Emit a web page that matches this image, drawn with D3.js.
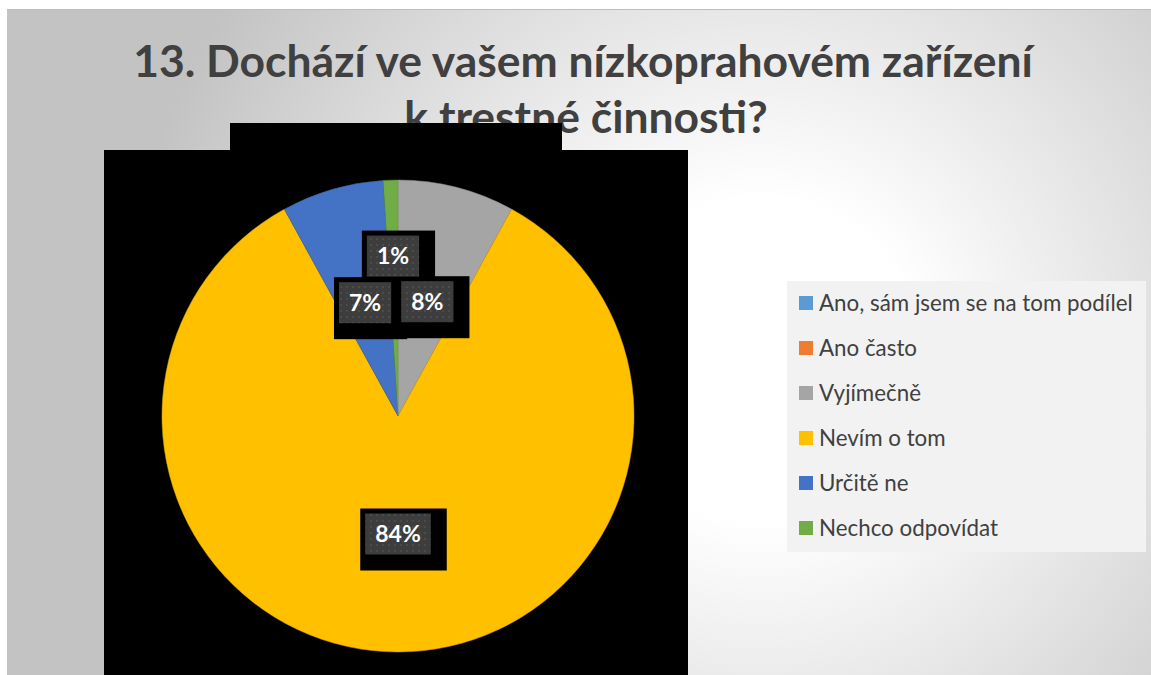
<!DOCTYPE html>
<html>
<head>
<meta charset="utf-8">
<script src="https://cdn.jsdelivr.net/npm/d3@7/dist/d3.min.js"></script>
<style>
  html, body { margin: 0; padding: 0; background: #ffffff; }
  svg { display: block; }
</style>
</head>
<body>
<svg id="chart" width="1151" height="675"></svg>
<script>
// Survey question 13 – answer shares (percent)
const categories = [
  "Ano, sám jsem se na tom podílel",
  "Ano často",
  "Vyjímečně",
  "Nevím o tom",
  "Určitě ne",
  "Nechco odpovídat"
];
const shares = [0, 0, 8, 84, 7, 1];
const sliceColors = ["#5B9BD5", "#ED7D31", "#A5A5A5", "#FFC000", "#4472C4", "#70AD47"];
const titleLines = [
  "13. Dochází ve vašem nízkoprahovém zařízení",
  "k trestné činnosti?"
];

const W = 1151, H = 675;
const svg = d3.select("#chart");
const defs = svg.append("defs");

// slide background: soft radial light falling off to grey
const grad = defs.append("radialGradient")
  .attr("id", "bg").attr("gradientUnits", "userSpaceOnUse")
  .attr("cx", 760).attr("cy", 360).attr("r", 640);
grad.append("stop").attr("offset", "0%").attr("stop-color", "#ffffff");
grad.append("stop").attr("offset", "25%").attr("stop-color", "#ffffff");
grad.append("stop").attr("offset", "100%").attr("stop-color", "#c3c3c3");

// dotted texture for the data label boxes
const pat = defs.append("pattern")
  .attr("id", "dots").attr("patternUnits", "userSpaceOnUse")
  .attr("width", 6).attr("height", 6);
pat.append("rect").attr("width", 6).attr("height", 6).attr("fill", "#3d3d3d");
pat.append("rect").attr("x", 2).attr("y", 2).attr("width", 2).attr("height", 2).attr("fill", "#4b4b4b");

svg.append("rect").attr("width", W).attr("height", H).attr("fill", "#ffffff");
svg.append("rect").attr("x", 7).attr("y", 9).attr("width", W - 7).attr("height", H - 9)
  .attr("fill", "url(#bg)");
svg.append("line").attr("x1", 7).attr("x2", W).attr("y1", 9.5).attr("y2", 9.5)
  .attr("stroke", "#bdbdbd").attr("stroke-width", 1);

// fit a text element's font size so it spans the given width
function fitWidth(sel, target) {
  const base = parseFloat(sel.attr("font-size"));
  const w = sel.node().getComputedTextLength();
  sel.attr("font-size", (base * target / w).toFixed(2));
}

// title
const title = svg.append("g")
  .attr("font-family", "Lato, 'Open Sans', sans-serif")
  .attr("font-weight", 700)
  .attr("fill", "#404040")
  .attr("text-anchor", "middle");
const t1 = title.append("text").attr("x", 583).attr("y", 77).attr("font-size", 40).text(titleLines[0]);
fitWidth(t1, 900);
const t2 = title.append("text").attr("x", 586).attr("y", 133).attr("font-size", t1.attr("font-size")).text(titleLines[1]);

// plot area panels
svg.append("rect").attr("x", 230).attr("y", 123).attr("width", 332).attr("height", 28).attr("fill", "#000");
svg.append("rect").attr("x", 104).attr("y", 150).attr("width", 584).attr("height", H - 150).attr("fill", "#000");

// pie
const cx = 398, cy = 416, R = 236;
const pie = d3.pie().sort(null).value(d => d.v).startAngle(0).endAngle(2 * Math.PI);
const data = categories.map((c, i) => ({ c, v: shares[i], color: sliceColors[i] }));
const arcs = pie(data);
const arc = d3.arc().innerRadius(0).outerRadius(R);

const gPie = svg.append("g").attr("transform", `translate(${cx},${cy})`);
gPie.selectAll("path").data(arcs.filter(a => a.data.v > 0)).join("path")
  .attr("d", arc)
  .attr("fill", d => d.data.color)
  .attr("stroke", d => d3.color(d.data.color).darker(0.4))
  .attr("stroke-width", 0.5);

// data labels: placed at the slice centroid, pushed outward if they collide
const gLab = svg.append("g").attr("transform", `translate(${cx},${cy})`);
const boxH = 41, padX = 10, labSize = 23;
const labelArcs = arcs.filter(a => a.data.v > 0);
const measure = gLab.append("text").attr("font-family", "Lato, sans-serif")
  .attr("font-weight", 700).attr("font-size", labSize);
const placed = [];
// largest slices placed first, small ones yield
const order = labelArcs.slice().sort((a, b) => b.data.v - a.data.v);
order.forEach(a => {
  const txt = a.data.v + "%";
  measure.text(txt);
  const w = measure.node().getComputedTextLength() + 2 * padX;
  const mid = (a.startAngle + a.endAngle) / 2;
  let rr = R / 2, box;
  for (let k = 0; k < 200; k++) {
    const x = Math.sin(mid) * rr, y = -Math.cos(mid) * rr;
    box = { x: x - w / 2, y: y - boxH / 2, w, h: boxH, cxl: x, cyl: y, txt };
    const hit = placed.some(p => box.x < p.x + p.w && box.x + box.w > p.x &&
                                 box.y < p.y + p.h + 4 && box.y + box.h + 4 > p.y);
    if (!hit) break;
    rr += 1;
  }
  placed.push(box);
});
measure.remove();

// dark backing behind each label
gLab.selectAll("rect.back").data(placed).join("rect").attr("class", "back")
  .attr("x", d => d.x - 5).attr("y", d => d.y - 5)
  .attr("width", d => d.w + 21).attr("height", d => d.h + 21)
  .attr("fill", "#000");
gLab.selectAll("rect.box").data(placed).join("rect").attr("class", "box")
  .attr("x", d => d.x).attr("y", d => d.y)
  .attr("width", d => d.w).attr("height", d => d.h)
  .attr("fill", "url(#dots)");
gLab.selectAll("text").data(placed).join("text")
  .attr("x", d => d.cxl).attr("y", d => d.cyl)
  .attr("dy", "0.36em")
  .attr("text-anchor", "middle")
  .attr("font-family", "Lato, sans-serif").attr("font-weight", 700).attr("font-size", labSize)
  .attr("fill", "#ffffff")
  .text(d => d.txt);

// legend
const legX = 787, legY = 281, legW = 359, legH = 271;
svg.append("rect").attr("x", legX).attr("y", legY).attr("width", legW).attr("height", legH)
  .attr("fill", "#f2f2f2");
const rowY = d3.scalePoint().domain(categories).range([303, 528]);
const gLeg = svg.append("g");
const items = gLeg.selectAll("g").data(data).join("g")
  .attr("transform", d => `translate(0,${rowY(d.c)})`);
items.append("rect").attr("x", 799).attr("y", -7).attr("width", 14).attr("height", 14)
  .attr("fill", d => d.color);
const legTexts = items.append("text").attr("x", 819).attr("dy", "0.35em")
  .attr("font-family", "Lato, 'Open Sans', sans-serif").attr("font-size", 20)
  .attr("fill", "#404040")
  .text(d => d.c);
fitWidth(legTexts.filter((d, i) => i === 0), 314);
legTexts.attr("font-size", legTexts.filter((d, i) => i === 0).attr("font-size"));
</script>
</body>
</html>
